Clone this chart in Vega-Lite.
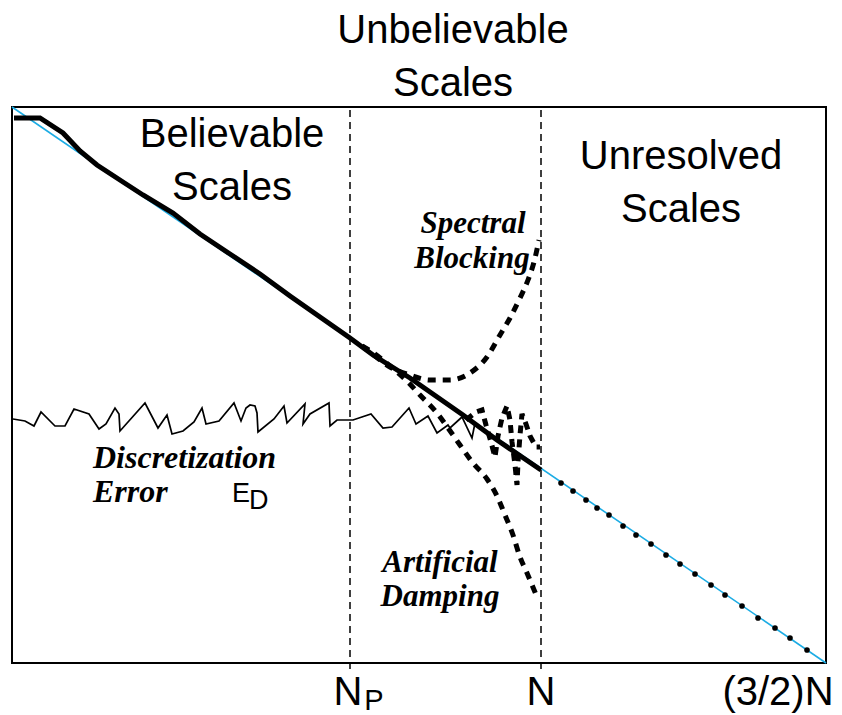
{
  "$schema": "https://vega.github.io/schema/vega-lite/v6.json",
  "width": 814,
  "height": 556,
  "autosize": {"type": "none"},
  "padding": {"left": 12, "top": 107, "right": 16, "bottom": 52},
  "background": "white",
  "config": {"view": {"stroke": "black", "strokeWidth": 2}},
  "datasets": {
    "ref": [{"i": 0, "x": 0, "y": 556}, {"i": 1, "x": 814, "y": 0}],
    "vlines": [{"x": 338, "y": -6, "y2": 556}, {"x": 529, "y": -6, "y2": 556}],
    "solid": [
      {"i": 0, "x": 2, "y": 545}, {"i": 1, "x": 28, "y": 545}, {"i": 2, "x": 51, "y": 530}, {"i": 3, "x": 68, "y": 512},
      {"i": 4, "x": 85, "y": 498}, {"i": 5, "x": 111, "y": 481}, {"i": 6, "x": 131, "y": 468}, {"i": 7, "x": 161, "y": 450},
      {"i": 8, "x": 188, "y": 429}, {"i": 9, "x": 218, "y": 409}, {"i": 10, "x": 248, "y": 389}, {"i": 11, "x": 278, "y": 367},
      {"i": 12, "x": 308, "y": 346}, {"i": 13, "x": 338, "y": 325}, {"i": 14, "x": 361, "y": 308}, {"i": 15, "x": 398, "y": 285},
      {"i": 16, "x": 451, "y": 248}, {"i": 17, "x": 485, "y": 223}, {"i": 18, "x": 529, "y": 193}
    ],
    "noise": [
      {"i": 0, "x": 1, "y": 244}, {"i": 1, "x": 13, "y": 242}, {"i": 2, "x": 22, "y": 237}, {"i": 3, "x": 29, "y": 251},
      {"i": 4, "x": 43, "y": 237}, {"i": 5, "x": 53, "y": 237}, {"i": 6, "x": 62, "y": 254}, {"i": 7, "x": 77, "y": 249},
      {"i": 8, "x": 87, "y": 234}, {"i": 9, "x": 94, "y": 239}, {"i": 10, "x": 103, "y": 255}, {"i": 11, "x": 107, "y": 249},
      {"i": 12, "x": 108, "y": 232}, {"i": 13, "x": 133, "y": 260}, {"i": 14, "x": 146, "y": 235}, {"i": 15, "x": 155, "y": 248},
      {"i": 16, "x": 160, "y": 229}, {"i": 17, "x": 171, "y": 232}, {"i": 18, "x": 182, "y": 241}, {"i": 19, "x": 190, "y": 255},
      {"i": 20, "x": 194, "y": 239}, {"i": 21, "x": 207, "y": 242}, {"i": 22, "x": 222, "y": 260}, {"i": 23, "x": 229, "y": 242},
      {"i": 24, "x": 234, "y": 255}, {"i": 25, "x": 238, "y": 258}, {"i": 26, "x": 243, "y": 257}, {"i": 27, "x": 245, "y": 250},
      {"i": 28, "x": 246, "y": 231}, {"i": 29, "x": 262, "y": 244}, {"i": 30, "x": 272, "y": 257}, {"i": 31, "x": 275, "y": 240},
      {"i": 32, "x": 293, "y": 259}, {"i": 33, "x": 291, "y": 239}, {"i": 34, "x": 298, "y": 249}, {"i": 35, "x": 317, "y": 260},
      {"i": 36, "x": 318, "y": 237}, {"i": 37, "x": 325, "y": 243}, {"i": 38, "x": 338, "y": 243}, {"i": 39, "x": 341, "y": 243},
      {"i": 40, "x": 359, "y": 249}, {"i": 41, "x": 371, "y": 235}, {"i": 42, "x": 380, "y": 236}, {"i": 43, "x": 397, "y": 255},
      {"i": 44, "x": 404, "y": 239}, {"i": 45, "x": 416, "y": 247}, {"i": 46, "x": 425, "y": 230}, {"i": 47, "x": 436, "y": 238},
      {"i": 48, "x": 438, "y": 235}, {"i": 49, "x": 450, "y": 246}, {"i": 50, "x": 460, "y": 225}, {"i": 51, "x": 463, "y": 240}
    ],
    "blocking": [
      {"i": 0, "x": 350, "y": 317}, {"i": 1, "x": 358, "y": 311}, {"i": 2, "x": 378, "y": 296}, {"i": 3, "x": 398, "y": 288},
      {"i": 4, "x": 418, "y": 283}, {"i": 5, "x": 438, "y": 283}, {"i": 6, "x": 458, "y": 290}, {"i": 7, "x": 475, "y": 306},
      {"i": 8, "x": 488, "y": 328}, {"i": 9, "x": 498, "y": 345}, {"i": 10, "x": 508, "y": 365}, {"i": 11, "x": 516, "y": 383},
      {"i": 12, "x": 522, "y": 401}, {"i": 13, "x": 527, "y": 423}
    ],
    "damping": [
      {"i": 0, "x": 350, "y": 317}, {"i": 1, "x": 360, "y": 311}, {"i": 2, "x": 378, "y": 297}, {"i": 3, "x": 395, "y": 282},
      {"i": 4, "x": 408, "y": 268}, {"i": 5, "x": 425, "y": 250}, {"i": 6, "x": 436, "y": 235}, {"i": 7, "x": 448, "y": 218},
      {"i": 8, "x": 461, "y": 200}, {"i": 9, "x": 475, "y": 184}, {"i": 10, "x": 485, "y": 167}, {"i": 11, "x": 493, "y": 148},
      {"i": 12, "x": 501, "y": 128}, {"i": 13, "x": 508, "y": 106}, {"i": 14, "x": 515, "y": 90}, {"i": 15, "x": 525, "y": 66}
    ],
    "oscill": [
      {"i": 0, "x": 454, "y": 243}, {"i": 1, "x": 464, "y": 251}, {"i": 2, "x": 470, "y": 253}, {"i": 3, "x": 474, "y": 238},
      {"i": 4, "x": 479, "y": 221}, {"i": 5, "x": 483, "y": 206}, {"i": 6, "x": 486, "y": 227}, {"i": 7, "x": 490, "y": 245},
      {"i": 8, "x": 495, "y": 257}, {"i": 9, "x": 498, "y": 243}, {"i": 10, "x": 500, "y": 221}, {"i": 11, "x": 503, "y": 198},
      {"i": 12, "x": 505, "y": 178}, {"i": 13, "x": 506, "y": 201}, {"i": 14, "x": 508, "y": 228}, {"i": 15, "x": 510, "y": 249},
      {"i": 16, "x": 514, "y": 239}, {"i": 17, "x": 518, "y": 227}, {"i": 18, "x": 524, "y": 216}, {"i": 19, "x": 528, "y": 216}
    ],
    "dots": [
      {"x": 549, "y": 180}, {"x": 561, "y": 172}, {"x": 574, "y": 163}, {"x": 585, "y": 155}, {"x": 597, "y": 148},
      {"x": 611, "y": 137}, {"x": 624, "y": 128}, {"x": 639, "y": 119}, {"x": 654, "y": 108}, {"x": 668, "y": 99},
      {"x": 683, "y": 89}, {"x": 699, "y": 78}, {"x": 713, "y": 68}, {"x": 730, "y": 57}, {"x": 746, "y": 45},
      {"x": 763, "y": 35}, {"x": 778, "y": 25}, {"x": 795, "y": 13}
    ],
    "sansText": [
      {"x": 441, "y": 620, "t": "Unbelievable"}, {"x": 441, "y": 567, "t": "Scales"},
      {"x": 220, "y": 516, "t": "Believable"}, {"x": 220, "y": 463, "t": "Scales"},
      {"x": 669, "y": 494, "t": "Unresolved"}, {"x": 669, "y": 441, "t": "Scales"},
      {"x": 529, "y": -42, "t": "N"}, {"x": 766, "y": -42, "t": "(3/2)N"}, {"x": 336, "y": -42, "t": "N"}
    ],
    "subText": [
      {"x": 362, "y": -47, "t": "P"}
    ],
    "edText": [
      {"x": 220, "y": 161, "t": "E"}, {"x": 237, "y": 154, "t": "D"}
    ],
    "serifCenter": [
      {"x": 461, "y": 430, "t": "Spectral"}, {"x": 460, "y": 395, "t": "Blocking"},
      {"x": 428, "y": 91, "t": "Artificial"}, {"x": 428, "y": 57, "t": "Damping"}
    ],
    "serifLeft": [
      {"x": 81, "y": 195, "t": "Discretization"}, {"x": 81, "y": 161, "t": "Error"}
    ]
  },
  "encoding": {
    "x": {"field": "x", "type": "quantitative", "scale": {"domain": [0, 814], "nice": false, "zero": false}, "axis": null},
    "y": {"field": "y", "type": "quantitative", "scale": {"domain": [0, 556], "nice": false, "zero": false}, "axis": null}
  },
  "layer": [
    {
      "data": {"name": "ref"},
      "mark": {"type": "line", "color": "#1cace4", "strokeWidth": 1.6},
      "encoding": {"order": {"field": "i"}}
    },
    {
      "data": {"name": "vlines"},
      "mark": {"type": "rule", "color": "black", "strokeWidth": 1.5, "strokeDash": [7, 5]},
      "encoding": {"y2": {"field": "y2"}}
    },
    {
      "data": {"name": "noise"},
      "mark": {"type": "line", "color": "black", "strokeWidth": 1.7, "strokeJoin": "miter"},
      "encoding": {"order": {"field": "i"}}
    },
    {
      "data": {"name": "solid"},
      "mark": {"type": "line", "color": "black", "strokeWidth": 5},
      "encoding": {"order": {"field": "i"}}
    },
    {
      "data": {"name": "blocking"},
      "mark": {"type": "line", "color": "black", "strokeWidth": 5, "strokeDash": [8, 7], "interpolate": "monotone"},
      "encoding": {"order": {"field": "i"}}
    },
    {
      "data": {"name": "damping"},
      "mark": {"type": "line", "color": "black", "strokeWidth": 5, "strokeDash": [8, 7], "interpolate": "monotone"},
      "encoding": {"order": {"field": "i"}}
    },
    {
      "data": {"name": "oscill"},
      "mark": {"type": "line", "color": "black", "strokeWidth": 5, "strokeDash": [8, 6]},
      "encoding": {"order": {"field": "i"}}
    },
    {
      "data": {"name": "dots"},
      "mark": {"type": "point", "filled": true, "color": "black", "size": 32, "opacity": 1}
    },
    {
      "data": {"name": "sansText"},
      "mark": {"type": "text", "font": "Liberation Sans", "fontSize": 40, "align": "center", "baseline": "alphabetic", "color": "black"},
      "encoding": {"text": {"field": "t"}}
    },
    {
      "data": {"name": "subText"},
      "mark": {"type": "text", "font": "Liberation Sans", "fontSize": 29, "align": "center", "baseline": "alphabetic", "color": "black"},
      "encoding": {"text": {"field": "t"}}
    },
    {
      "data": {"name": "edText"},
      "mark": {"type": "text", "font": "Liberation Sans", "fontSize": 27, "align": "left", "baseline": "alphabetic", "color": "black"},
      "encoding": {"text": {"field": "t"}}
    },
    {
      "data": {"name": "serifCenter"},
      "mark": {"type": "text", "font": "Liberation Serif", "fontSize": 31, "fontWeight": "bold", "fontStyle": "italic", "align": "center", "baseline": "alphabetic", "color": "black"},
      "encoding": {"text": {"field": "t"}}
    },
    {
      "data": {"name": "serifLeft"},
      "mark": {"type": "text", "font": "Liberation Serif", "fontSize": 32, "fontWeight": "bold", "fontStyle": "italic", "align": "left", "baseline": "alphabetic", "color": "black"},
      "encoding": {"text": {"field": "t"}}
    }
  ]
}
